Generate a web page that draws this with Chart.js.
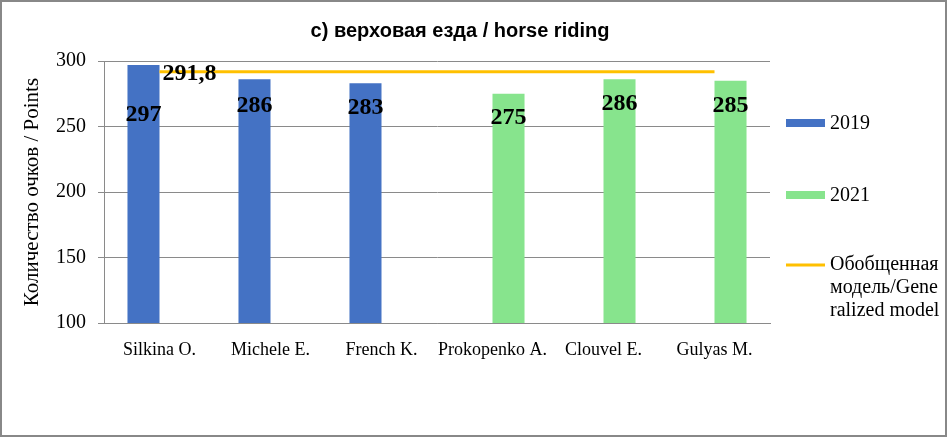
<!DOCTYPE html>
<html>
<head>
<meta charset="utf-8">
<script src="https://cdn.jsdelivr.net/npm/chart.js@4.4.1/dist/chart.umd.min.js"></script>
<style>
  html, body { margin: 0; padding: 0; background: #fff; }
  #wrap { position: relative; width: 947px; height: 437px; }
  #frame { position: absolute; left: 0; top: 0; width: 947px; height: 437px; box-sizing: border-box;
           border: 2px solid #888; pointer-events: none; }
</style>
</head>
<body>
<div id="wrap">
  <canvas id="chart" width="947" height="437"></canvas>
  <div id="frame"></div>
</div>
<script>
// данные
const categories = ['Silkina O.', 'Michele E.', 'French K.', 'Prokopenko A.', 'Clouvel E.', 'Gulyas M.'];
const values2019 = [297, 286, 283, null, null, null];
const values2021 = [null, null, null, 275, 286, 285];
const modelValues = [291.8, 291.8, 291.8, 291.8, 291.8, 291.8];
const yTicks = [100, 150, 200, 250, 300];
const seriesNames = ['2019', '2021', 'Обобщенная модель/Generalized model'];
const modelLegendLines = ['Обобщенная', 'модель/Gene', 'ralized model'];

const BLUE = '#4472C4';
const GREEN = '#87E48D';
const GOLD = '#FFC000';
const GRID = '#8a8a8a';
const SERIF = "'Liberation Serif', 'Times New Roman', serif";
const SANS = "'Liberation Sans', Arial, sans-serif";

//подписи значений + заголовок + легенда
const decorPlugin = {
    id: 'decor',
    afterDatasetsDraw(chart, args, opts) {
        const ctx = chart.ctx;
        ctx.save();
        ctx.fillStyle = '#000';
        ctx.textAlign = 'center';
        ctx.textBaseline = 'middle';
        ctx.font = 'bold 24px ' + SERIF;
        chart.data.datasets.forEach((ds, di) => {
            if (ds.type === 'line') return;
            const meta = chart.getDatasetMeta(di);
            meta.data.forEach((el, i) => {
                const v = ds.data[i];
                if (v == null) return;
                ctx.fillText(String(v), el.x, el.y + opts.labelOffsets[i]);
            });
        });
        //подпись линии только у первой точки
        const lineIdx = chart.data.datasets.findIndex(d => d.type === 'line');
        const p0 = chart.getDatasetMeta(lineIdx).data[0];
        ctx.textAlign = 'left';
        ctx.fillText(String(modelValues[0]).replace('.', ','), p0.x + 3, p0.y + 2);
        ctx.restore();
    },
    afterDraw(chart, args, opts) {
        const ctx = chart.ctx;
        ctx.save();
        //title
        ctx.fillStyle = '#000';
        ctx.font = 'bold 20px ' + SANS;
        ctx.textAlign = 'center';
        ctx.textBaseline = 'middle';
        ctx.fillText('c) верховая езда / horse riding', 460, 31);
        //legend
        ctx.font = '20px ' + SERIF;
        ctx.textAlign = 'left';
        const lx = 786, tx = 830;
        ctx.fillStyle = BLUE;
        ctx.fillRect(lx, 119, 39, 8);
        ctx.fillStyle = GREEN;
        ctx.fillRect(lx, 191, 39, 8);
        ctx.strokeStyle = GOLD;
        ctx.lineWidth = 3;
        ctx.beginPath();
        ctx.moveTo(lx, 265);
        ctx.lineTo(lx + 39, 265);
        ctx.stroke();
        ctx.fillStyle = '#000';
        ctx.fillText(seriesNames[0], tx, 124);
        ctx.fillText(seriesNames[1], tx, 196);
        modelLegendLines.forEach((t, k) => ctx.fillText(t, tx, 265 + k * 23));
        ctx.restore();
    }
};

new Chart(document.getElementById('chart'), {
    type: 'bar',
    data: {
        labels: categories,
        datasets: [
            {
                type: 'line',
                label: seriesNames[2],
                data: modelValues,
                borderColor: GOLD,
                borderWidth: 3,
                pointRadius: 0,
                fill: false,
                order: 0
            },
            {
                label: seriesNames[0],
                data: values2019,
                backgroundColor: BLUE,
                categoryPercentage: 0.577,
                barPercentage: 1,
                order: 1
            },
            {
                label: seriesNames[1],
                data: values2021,
                backgroundColor: GREEN,
                categoryPercentage: 0.577,
                barPercentage: 1,
                order: 1
            }
        ]
    },
    options: {
        responsive: false,
        animation: false,
        layout: { padding: { top: 61, right: 177, bottom: 0, left: 0 } },
        plugins: {
            legend: { display: false },
            title: { display: false },
            tooltip: { enabled: false },
            decor: { labelOffsets: [50, 26, 25, 24, 24, 25] }
        },
        scales: {
            x: {
                grid: { display: false, drawTicks: false },
                border: { color: GRID, width: 1 },
                ticks: {
                    color: '#000',
                    font: { family: SERIF, size: 18 },
                    padding: 16,
                    maxRotation: 0,
                    autoSkip: false
                },
                afterFit(s) { s.height = 114; }
            },
            y: {
                min: 100,
                max: 300,
                afterBuildTicks(s) { s.ticks = yTicks.map(v => ({ value: v })); },
                grid: { color: GRID, tickLength: 6 },
                border: { color: GRID, width: 1 },
                ticks: {
                    color: '#000',
                    font: { family: SERIF, size: 20 },
                    padding: 12
                },
                title: {
                    display: true,
                    text: 'Количество очков / Points',
                    color: '#000',
                    font: { family: SERIF, size: 21 },
                    padding: { top: 20, bottom: 0 }
                },
                afterFit(s) { s.width = 104; }
            }
        }
    },
    plugins: [decorPlugin]
});
</script>
</body>
</html>
